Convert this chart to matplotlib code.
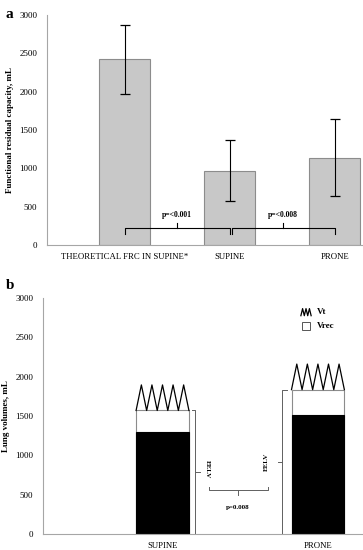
import matplotlib.pyplot as plt
import numpy as np

plt.rcParams['font.family'] = 'serif'
plt.rcParams['font.serif'] = ['Liberation Serif', 'DejaVu Serif']

# Panel a data
frc_labels = ['THEORETICAL FRC IN SUPINE*', 'SUPINE', 'PRONE']
frc_values = [2420, 970, 1140]
frc_errors = [450, 400, 500]

# Panel b data
pos_labels = ['SUPINE', 'PRONE']
eelv_black = [1300, 1510]
vrec_top = [1570, 1835]
vt_peak = [1895, 2160]

spine_color = '#a6a6a6'
edge_color = '#8c8c8c'


def style_axis(ax):
    for s in ['top', 'right']:
        ax.spines[s].set_visible(False)
    for s in ['left', 'bottom']:
        ax.spines[s].set_color(spine_color)
        ax.spines[s].set_linewidth(0.8)
    ax.tick_params(length=0, labelsize=6.5)
    ax.tick_params(axis='y', pad=7)
    ax.tick_params(axis='x', pad=6)
    ax.set_ylim(0, 3000)
    ax.set_yticks(np.arange(0, 3001, 500))


fig = plt.figure(figsize=(3.63, 5.5), dpi=100)

# ---------- panel a ----------
ax1 = fig.add_axes([0.1295, 0.5545, 0.8705, 0.4182])
style_axis(ax1)
xa = np.arange(len(frc_labels))
ax1.bar(xa, frc_values, width=0.49, color='#c8c8c8', edgecolor=edge_color, linewidth=0.8)
ax1.errorbar(xa, frc_values, yerr=frc_errors, fmt='none', ecolor='black',
             elinewidth=0.8, capsize=3.5, capthick=0.9)
ax1.set_xlim(-0.738, 2.27)
ax1.set_xticks(xa)
ax1.set_xticklabels(frc_labels, fontsize=6.3)
ax1.set_ylabel('Functional residual capacity, mL', fontsize=6.5, fontweight='bold', labelpad=4)


def hbrace(ax, x0, x1, y, end_dy, tick_dy, lw=0.8):
    xm = (x0 + x1) / 2
    ax.plot([x0, x0, x1, x1], [y + end_dy, y, y, y + end_dy], color='black', lw=lw)
    ax.plot([xm, xm], [y, y + tick_dy], color='black', lw=lw)


hbrace(ax1, 0.0, 1.0, 220, -70, 70)
hbrace(ax1, 1.02, 2.0, 220, -70, 70)
ax1.text(0.5, 390, 'p=<0.001', ha='center', va='center', fontsize=5.5, fontweight='bold')
ax1.text(1.51, 390, 'p=<0.008', ha='center', va='center', fontsize=5.5, fontweight='bold')
fig.text(0.015, 0.985, 'a', fontsize=11, fontweight='bold', va='top')

# ---------- panel b ----------
ax2 = fig.add_axes([0.118, 0.0291, 0.882, 0.4291])
style_axis(ax2)
xb = np.arange(len(pos_labels))
w = 0.34
ax2.bar(xb, vrec_top, width=w, color='white', edgecolor=edge_color, linewidth=0.8)
ax2.bar(xb, eelv_black, width=w, color='black', edgecolor='black', linewidth=0.8)
for x, base, peak in zip(xb, vrec_top, vt_peak):
    zx = x - w / 2 + np.arange(11) * w / 10
    zy = np.where(np.arange(11) % 2 == 0, base, peak)
    ax2.plot(zx, zy, color='black', lw=0.9)
ax2.set_xlim(-0.77, 1.29)
ax2.set_xticks(xb)
ax2.set_xticklabels(pos_labels, fontsize=6.3)
ax2.set_ylabel('Lung volumes, mL', fontsize=6.5, fontweight='bold', labelpad=4)

brace_c = '#606060'
# vertical brace next to supine bar
ax2.plot([0.19, 0.21, 0.21, 0.19], [0, 0, vrec_top[0], vrec_top[0]], color=brace_c, lw=0.7)
ax2.plot([0.21, 0.24], [vrec_top[0] / 2] * 2, color=brace_c, lw=0.7)
ax2.text(0.29, 820, 'EELV', rotation=270, ha='center', va='center', fontsize=5, fontweight='bold')
# vertical brace next to prone bar
ax2.plot([0.8, 0.77, 0.77, 0.8], [0, 0, vrec_top[1], vrec_top[1]], color=brace_c, lw=0.7)
ax2.plot([0.77, 0.74], [vrec_top[1] / 2] * 2, color=brace_c, lw=0.7)
ax2.text(0.67, 915, 'EELV', rotation=90, ha='center', va='center', fontsize=5, fontweight='bold')
# horizontal brace between
ax2.plot([0.30, 0.30, 0.68, 0.68], [600, 560, 560, 600], color=brace_c, lw=0.7)
ax2.plot([0.485, 0.485], [560, 495], color=brace_c, lw=0.7)
ax2.text(0.485, 340, 'p=0.008', ha='center', va='center', fontsize=5, fontweight='bold')

# legend (drawn by hand)
lx = np.linspace(0.806, 0.838, 7)
ly = np.where(np.arange(7) % 2 == 0, 0.925, 0.955)
ax2.plot(lx, ly, color='black', lw=0.9, transform=ax2.transAxes)
ax2.text(0.855, 0.94, 'Vt', transform=ax2.transAxes, fontsize=6.5, fontweight='bold', va='center')
ax2.add_patch(plt.Rectangle((0.81, 0.863), 0.024, 0.034, transform=ax2.transAxes,
                            facecolor='white', edgecolor='#555555', lw=0.7))
ax2.text(0.855, 0.88, 'Vrec', transform=ax2.transAxes, fontsize=6.5, fontweight='bold', va='center')
fig.text(0.015, 0.492, 'b', fontsize=11, fontweight='bold', va='top')

fig.savefig('out.png', dpi=100)
